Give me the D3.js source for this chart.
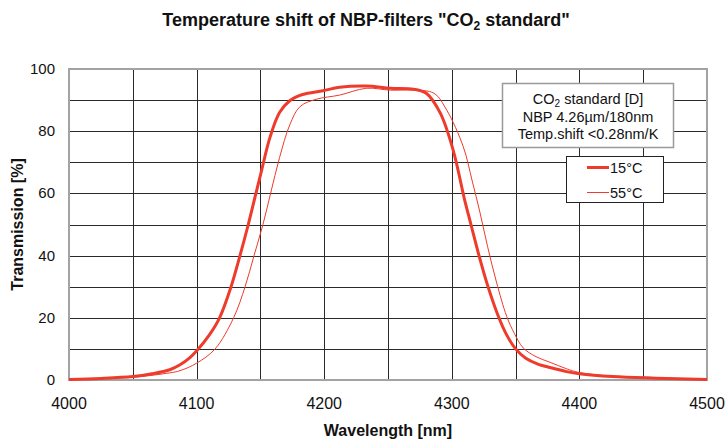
<!DOCTYPE html>
<html lang="en">
  <head>
    <meta charset="utf-8" />
    <title>Temperature shift of NBP-filters</title>
    <script src="https://cdnjs.cloudflare.com/ajax/libs/d3/7.8.5/d3.min.js"></script>
    <style type="text/css">
      body {
        margin: 0;
        background: #fff;
      }
      svg {
        font-family: "Liberation Sans", Arial, sans-serif;
      }
      .grid line {
        stroke: #2a2a2a;
        stroke-width: 1;
        shape-rendering: crispEdges;
      }
      .tick-label {
        fill: #111;
      }
      .axis-title {
        font-size: 16px;
        font-weight: bold;
        fill: #111;
      }
    </style>
  </head>

  <body>
    <div id="chart"></div>

    <script>
      // values (wavelength nm, transmission %)
      const curve15 = [
        [4000, 0.2], [4025, 0.5], [4050, 1.1], [4065, 2.0], [4079, 3.3],
        [4087, 4.9], [4095, 7.3], [4101, 9.8], [4110, 14.5], [4118, 20],
        [4127, 30], [4134, 40], [4140.5, 50], [4146.5, 60], [4151, 67.5],
        [4157.5, 78], [4165, 86], [4173, 89.8], [4183, 91.8], [4199, 93],
        [4212, 94.1], [4233, 94.5], [4252, 93.8], [4270, 93.5], [4280, 92.2],
        [4291, 85.8], [4301, 74], [4310, 58], [4315, 50], [4321, 40.5],
        [4328, 30.5], [4336, 21], [4343, 14.5], [4350, 10], [4358, 7],
        [4367, 5.2], [4377, 4.0], [4390, 2.7], [4400, 2.0], [4426, 1.1],
        [4460, 0.6], [4500, 0.2],
      ];
      const curve55 = [
        [4000, 0.2], [4050, 0.9], [4079, 2.3], [4087, 3.0], [4100, 5.4],
        [4114.5, 10], [4129, 20], [4138, 30], [4145, 40], [4152, 50],
        [4158, 60], [4165, 71.5], [4173, 82], [4181, 87.9], [4194, 90.3],
        [4212, 91.6], [4233, 93.8], [4252, 93.2], [4270, 93.2], [4286, 92.2],
        [4296, 86.8], [4309, 75], [4316, 64], [4322, 54], [4328, 43],
        [4335, 31.5], [4343, 20.5], [4349, 15], [4356, 10.3], [4366, 7.5],
        [4377, 5.7], [4390, 3.6], [4400, 2.4], [4426, 1.2], [4460, 0.6],
        [4500, 0.2],
      ];
      const xTicks = [4000, 4100, 4200, 4300, 4400, 4500];
      const yTicks = [0, 20, 40, 60, 80, 100];
      const infoLines = ["standard [D]", "NBP 4.26µm/180nm", "Temp.shift <0.28nm/K"];
      const seriesNames = ["15°C", "55°C"];

      const outerWidth = 726;
      const outerHeight = 440;
      const margin = { top: 69, right: 19, bottom: 60, left: 69 };
      const red = "#ee3b2b";

      const svg = d3
        .select("#chart")
        .append("svg")
        .attr("width", outerWidth)
        .attr("height", outerHeight);

      const x = d3
        .scaleLinear()
        .domain([4000, 4500])
        .range([margin.left, outerWidth - margin.right]);
      const y = d3
        .scaleLinear()
        .domain([0, 100])
        .range([outerHeight - margin.bottom, margin.top]);

      // grid
      const grid = svg.append("g").attr("class", "grid");
      grid
        .selectAll("line.v")
        .data(d3.range(4050, 4500, 50))
        .join("line")
        .attr("class", "v")
        .attr("x1", (d) => Math.round(x(d)) + 0.5)
        .attr("x2", (d) => Math.round(x(d)) + 0.5)
        .attr("y1", y(100))
        .attr("y2", y(0));
      grid
        .selectAll("line.h")
        .data(d3.range(10, 100, 10))
        .join("line")
        .attr("class", "h")
        .attr("x1", x(4000))
        .attr("x2", x(4500))
        .attr("y1", (d) => Math.round(y(d)) + 0.5)
        .attr("y2", (d) => Math.round(y(d)) + 0.5);

      // plot frame
      svg
        .append("rect")
        .attr("x", x(4000))
        .attr("y", y(100))
        .attr("width", x(4500) - x(4000))
        .attr("height", y(0) - y(100))
        .attr("fill", "none")
        .attr("stroke", "#a3a3a3")
        .attr("stroke-width", 2);

      // tick labels
      svg
        .selectAll("text.ylab")
        .data(yTicks)
        .join("text")
        .attr("class", "tick-label ylab")
        .attr("font-size", 15)
        .attr("x", x(4000) - 14)
        .attr("y", (d) => y(d) + 5)
        .attr("text-anchor", "end")
        .text((d) => d);
      svg
        .selectAll("text.xlab")
        .data(xTicks)
        .join("text")
        .attr("class", "tick-label xlab")
        .attr("font-size", 16)
        .attr("x", (d) => x(d))
        .attr("y", y(0) + 29)
        .attr("text-anchor", "middle")
        .text((d) => d);

      // titles
      const title = svg
        .append("text")
        .attr("x", 366)
        .attr("y", 26)
        .attr("text-anchor", "middle")
        .attr("font-size", 18)
        .attr("font-weight", "bold")
        .attr("fill", "#111");
      title.append("tspan").text('Temperature shift of NBP-filters "CO');
      title.append("tspan").attr("font-size", 12).attr("dy", 4).text("2");
      title.append("tspan").attr("dy", -4).text(' standard"');

      svg
        .append("text")
        .attr("class", "axis-title")
        .attr("x", (x(4000) + x(4500)) / 2)
        .attr("y", 436)
        .attr("text-anchor", "middle")
        .text("Wavelength [nm]");
      svg
        .append("text")
        .attr("class", "axis-title")
        .attr("transform", `translate(23, ${(y(0) + y(100)) / 2}) rotate(-90)`)
        .attr("text-anchor", "middle")
        .text("Transmission [%]");

      // curves
      const line = d3
        .line()
        .curve(d3.curveCatmullRom.alpha(0.5))
        .x((d) => x(d[0]))
        .y((d) => y(d[1]));

      svg
        .append("path")
        .datum(curve55)
        .attr("fill", "none")
        .attr("stroke", red)
        .attr("stroke-width", 1)
        .attr("d", line);
      svg
        .append("path")
        .datum(curve15)
        .attr("fill", "none")
        .attr("stroke", red)
        .attr("stroke-width", 3)
        .attr("d", line);

      // info box
      svg
        .append("rect")
        .attr("x", 502.5)
        .attr("y", 83.5)
        .attr("width", 171)
        .attr("height", 64)
        .attr("fill", "#fff")
        .attr("stroke", "#9a9a9a")
        .attr("stroke-width", 1.5);
      const info = svg
        .append("text")
        .attr("x", 588)
        .attr("text-anchor", "middle")
        .attr("font-size", 14.5)
        .attr("fill", "#111");
      const l1 = info.append("tspan").attr("x", 588).attr("y", 104);
      l1.append("tspan").text("CO");
      l1.append("tspan").attr("font-size", 10).attr("dy", 3).text("2");
      l1.append("tspan").attr("dy", -3).text(" " + infoLines[0]);
      info.append("tspan").attr("x", 588).attr("y", 122).text(infoLines[1]);
      info.append("tspan").attr("x", 588).attr("y", 139).text(infoLines[2]);

      // legend
      svg
        .append("rect")
        .attr("x", 566.5)
        .attr("y", 156.5)
        .attr("width", 97)
        .attr("height", 46)
        .attr("fill", "#fff")
        .attr("stroke", "#222")
        .attr("stroke-width", 1);
      const legend = svg
        .selectAll("g.leg")
        .data(seriesNames)
        .join("g")
        .attr("class", "leg")
        .attr("transform", (d, i) => `translate(587, ${167.5 + i * 25})`);
      legend
        .append("line")
        .attr("x1", 0)
        .attr("x2", 22)
        .attr("stroke", red)
        .attr("stroke-width", (d, i) => (i === 0 ? 3 : 1));
      legend
        .append("text")
        .attr("x", 23)
        .attr("y", 5)
        .attr("font-size", 14.5)
        .attr("fill", "#111")
        .text((d) => d);
    </script>
  </body>
</html>
